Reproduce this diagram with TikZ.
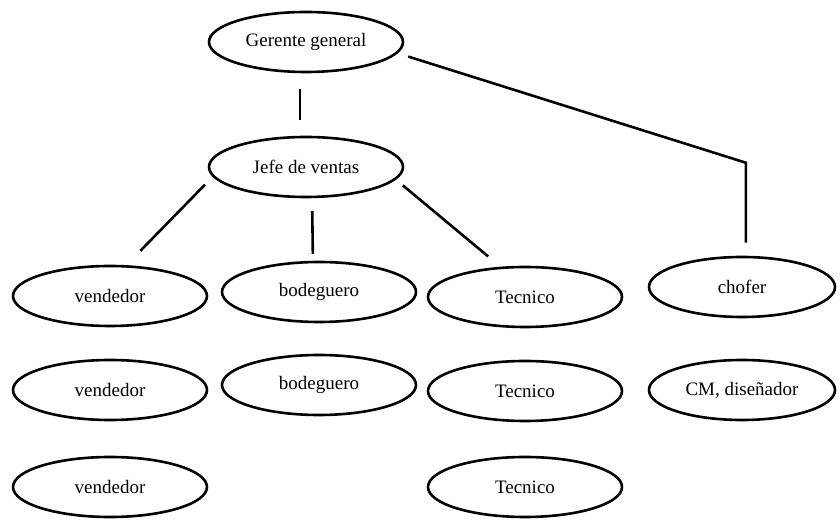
\documentclass[tikz,border=0pt]{standalone}
\usepackage{fontspec}
\setmainfont{Liberation Serif}
\newfontfamily\serifa{Liberation Serif}
\usetikzlibrary{shapes.geometric}

\tikzset{
  puesto/.style={draw, ellipse, line width=2.6pt, minimum width=194pt, minimum height=60pt,
    inner sep=0pt, font=\serifa\fontsize{19}{23}\selectfont},
  linea/.style={draw, line width=2.6pt},
}

\begin{document}
\begin{tikzpicture}[x=1pt, y=1pt, node distance=94pt]
    \useasboundingbox (0,0) rectangle (840,521);

    \node[puesto] (G) at (306,479) {Gerente general};
    \node[puesto] (J) [below of=G, node distance=125pt] {Jefe de ventas};
    \node[puesto] (V1) at (110,225) {vendedor};
    \node[puesto] (B1) at (319,229) {bodeguero};
    \node[puesto] (T1) at (525,224) {Tecnico};
    \node[puesto, minimum width=186pt] (C1) at (742,234) {chofer};
    \node[puesto] (V2) [below of=V1] {vendedor};
    \node[puesto] (V3) [below of=V2, node distance=97pt] {vendedor};
    \node[puesto] (B2) [below of=B1, node distance=93pt] {bodeguero};
    \node[puesto] (T2) [below of=T1] {Tecnico};
    \node[puesto] (T3) [below of=T2, node distance=96pt] {Tecnico};
    \node[puesto, minimum width=186pt] (C2) [below of=C1, node distance=103pt] {CM, diseñador};

    \path[linea]
      (G.-101) edge[shorten <=16pt, shorten >=16pt] (J.101)
      (J.186) edge[shorten <=11pt, shorten >=20pt] (V1.62)
      (J.-79) edge[shorten <=13pt, shorten >=7pt] (B1.101)
      (J.-8) edge[shorten <=9pt, shorten >=16pt] (T1.129);
    \draw[linea, shorten <=11pt, shorten >=13pt] (G.-7) -- ([yshift=93pt]C1.83) -- (C1.83);
  \end{tikzpicture}
\end{document}
